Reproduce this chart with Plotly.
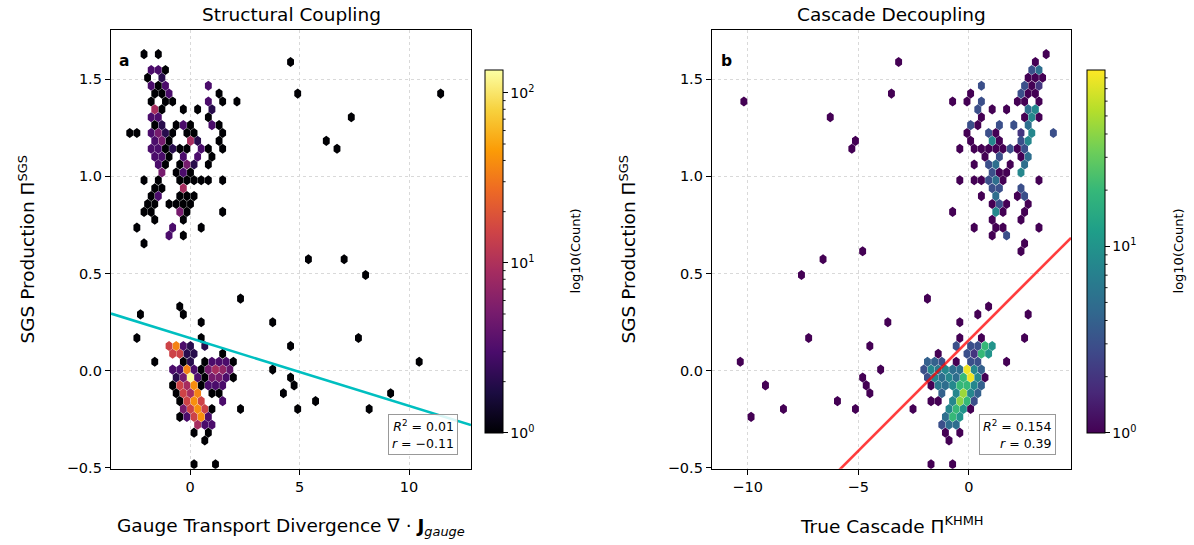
import numpy as np
import plotly.graph_objects as go
from plotly.colors import sample_colorscale

W, H = 1194, 545
Y_SPAN = 537   # vertical pixel span that the paper occupies in the photographed page

# ---------------- Panel a: hexbin of SGS production vs gauge transport divergence
# hex-grid bin (column index, row index) and count per bin
A_COL = [-14, -10, 27, -12, -10, -8, -13, -9, -12, -10, -8, 4,
         -11, -9, -7, 7, 29, 69, -12, -8, -6, 4, 8, 12,
         -11, -9, -3, 1, 5, -12, -10, 4, 44,
         -11, -9, -5, -3, -1, 5, 7,
         -18, -16, -12, -10, -8, -6, -2, 0, 8,
         -11, -9, -7, -1, 1, 7, 37,
         -12, -10, -8, -6, -4, -2, 2, 4, 8, 40,
         -11, -9, -7, -3, 1, 5,
         -10, -8, -4, -2, 0, 4,
         -9, -5, -3, -1,
         -14, -10, -4, -2, 0, 2, 4, 8,
         -11, -9, -3,
         -12, -10, -4, -2, 0,
         -13, -11, -7, -5, -3, -1,
         -14, -12, -4, -2, 8,
         -11, -3, -16, -6, 2, -7, -3, -14,
         32, 42, 48, 13, -4, -15, -3, 2, 22, -16, 2, 46,
         -7, -5, -3, -1, 3, 27,
         -6, -4, -2, 0, 8,
         -11, -3, -1, 3, 5, 7, 9, 11, 63,
         -6, -4, -2, 0, 2, 4, 6, 8, 10, 22,
         -5, -3, -1, 1, 3, 5, 7, 9, 11, 27,
         -6, -4, -2, 0, 2, 4, 6, 8, 28,
         -5, -3, -1, 1, 5, 7, 25, 55,
         -4, -2, 0, 2, 8, 34,
         -3, -1, 1, 3, 5, 13, 29, 49,
         -4, -2, 0, 2, 4,
         1, 3, 5, 0, 4, 3, 0, 6]
A_ROW = [52, 52, 51, 50, 50, 50, 49, 49, 48, 48, 48, 48,
         47, 47, 47, 47, 47, 47, 46, 46, 46, 46, 46, 46,
         45, 45, 45, 45, 45, 44, 44, 44, 44,
         43, 43, 43, 43, 43, 43, 43,
         42, 42, 42, 42, 42, 42, 42, 42, 42,
         41, 41, 41, 41, 41, 41, 41,
         40, 40, 40, 40, 40, 40, 40, 40, 40, 40,
         39, 39, 39, 39, 39, 39,
         38, 38, 38, 38, 38, 38,
         37, 37, 37, 37,
         36, 36, 36, 36, 36, 36, 36, 36,
         35, 35, 35,
         34, 34, 34, 34, 34,
         33, 33, 33, 33, 33, 33,
         32, 32, 32, 32, 32,
         31, 31, 30, 30, 30, 29, 29, 28,
         26, 26, 24, 21, 20, 19, 19, 18, 18, 16, 16, 16,
         15, 15, 15, 15, 15, 15,
         14, 14, 14, 14, 14,
         13, 13, 13, 13, 13, 13, 13, 13, 13,
         12, 12, 12, 12, 12, 12, 12, 12, 12, 12,
         11, 11, 11, 11, 11, 11, 11, 11, 11, 11,
         10, 10, 10, 10, 10, 10, 10, 10, 10,
         9, 9, 9, 9, 9, 9, 9, 9,
         8, 8, 8, 8, 8, 8,
         7, 7, 7, 7, 7, 7, 7, 7,
         6, 6, 6, 6, 6,
         5, 5, 5, 4, 4, 3, 0, 0]
A_COUNT = [1, 1, 1, 3, 3, 1, 1, 2, 3, 1, 3, 3,
           1, 1, 3, 1, 1, 1, 1, 1, 1, 3, 1, 1,
           9, 1, 1, 1, 2, 3, 3, 1, 1,
           1, 2, 1, 3, 1, 3, 1,
           1, 1, 3, 5, 2, 1, 1, 1, 1,
           3, 5, 1, 9, 2, 1, 1,
           3, 3, 1, 2, 1, 1, 3, 1, 1, 1,
           3, 3, 1, 3, 3, 1,
           3, 1, 1, 5, 2, 1,
           5, 1, 3, 1,
           1, 1, 1, 1, 1, 1, 1, 1,
           1, 1, 9,
           1, 3, 1, 1, 1,
           1, 1, 1, 1, 1, 1,
           1, 1, 5, 1, 1,
           1, 1, 1, 3, 1, 3, 1, 1,
           1, 1, 1, 1, 1, 1, 1, 1, 1, 1, 1, 1,
           15, 35, 3, 2, 2, 1,
           15, 15, 2, 2, 1,
           1, 1, 2, 1, 3, 3, 3, 1, 1,
           3, 3, 35, 3, 1, 5, 9, 7, 4, 1,
           2, 5, 130, 3, 1, 5, 5, 3, 1, 1,
           1, 15, 9, 40, 1, 3, 3, 3, 1,
           1, 15, 9, 35, 1, 1, 1, 1,
           1, 15, 40, 15, 3, 1,
           5, 15, 40, 15, 1, 1, 1, 1,
           1, 3, 15, 40, 3,
           9, 3, 3, 1, 1, 1, 1, 1]

# ---------------- Panel b: hexbin of SGS production vs true cascade
B_COL = [20, 17, -21, 16, 18, 15, 17, 19, 2, 14, 16, 18,
         -1, 13, 15, 17, -23,
         -64, -6, -2, 2, 12, 14, 18,
         1, 5, 9, 15, 17,
         -40, 2, 14, 16, 18,
         -1, 1, 7, 11, 15,
         -2, 4, 6, 13, 16, 22,
         -33, -1, 5, 7, 13, 15,
         -34, -4, 0, 2, 4, 6, 8, 10, 12, 14,
         3, 7, 13, 15,
         0, 4, 6, 10, 14,
         5, 7, 9, 13,
         -4, 0, 2, 4, 6, 8, 18,
         5, 7, 13,
         2, 6, 12, 14,
         5, 7, 9, 15,
         -6, 6, 8, 14,
         5, 13, 0, 6, 8, 18, 5, 9, 14, -31, 13,
         -42, -48, -13, 4, 1, 15, -24, -4, -46, -4, 2, 14,
         -29, -65, 9, -26, -31, -30, -58, -29, -38, -17, -33, -53, -62, -12, -6,
         -5, -1, 1, 3, 5,
         -10, -2, 0, 2, 4,
         -13, -11, -9, -5, -1, 1,
         -14, -12, -10, -8, -6, -4, -2, 0, 2,
         -13, -11, -9, -7, -5, -3, -1, 1, 3,
         -12, -10, -8, -6, -4, -2, 0, 2,
         -9, -5, -3, -1, 1,
         -12, -10, -6, -4, -2, 0,
         -7, -5, -3, -1,
         -8, -6, -4,
         -9, -7, -5,
         -8, -4, -7]
B_ROW = [52, 51, 51, 50, 50, 49, 49, 49, 48, 48, 48, 48,
         47, 47, 47, 47, 47,
         46, 46, 46, 46, 46, 46, 46,
         45, 45, 45, 45, 45,
         44, 44, 44, 44, 44,
         43, 43, 43, 43, 43,
         42, 42, 42, 42, 42, 42,
         41, 41, 41, 41, 41, 41,
         40, 40, 40, 40, 40, 40, 40, 40, 40, 40,
         39, 39, 39, 39,
         38, 38, 38, 38, 38,
         37, 37, 37, 37,
         36, 36, 36, 36, 36, 36, 36,
         35, 35, 35,
         34, 34, 34, 34,
         33, 33, 33, 33,
         32, 32, 32, 32,
         31, 31, 30, 30, 30, 30, 29, 29, 28, 27, 27,
         26, 24, 21, 20, 19, 19, 18, 18, 16, 16, 16, 16,
         15, 13, 13, 12, 11, 10, 10, 9, 8, 7, 7, 7, 6, 0, 0,
         15, 15, 15, 15, 15,
         14, 14, 14, 14, 14,
         13, 13, 13, 13, 13, 13,
         12, 12, 12, 12, 12, 12, 12, 12, 12,
         11, 11, 11, 11, 11, 11, 11, 11, 11,
         10, 10, 10, 10, 10, 10, 10, 10,
         9, 9, 9, 9, 9,
         8, 8, 8, 8, 8, 8,
         7, 7, 7, 7,
         6, 6, 6,
         5, 5, 5,
         4, 4, 3]
B_COUNT = [1, 1, 1, 3, 5, 1, 1, 1, 3, 3, 1, 2,
           1, 3, 1, 1, 1,
           1, 1, 1, 3, 1, 1, 1,
           3, 1, 1, 5, 8,
           1, 1, 1, 8, 1,
           3, 1, 3, 3, 5,
           1, 3, 1, 2, 8, 3,
           1, 1, 8, 1, 3, 8,
           1, 1, 1, 1, 1, 1, 1, 3, 1, 3,
           1, 3, 1, 5,
           1, 3, 5, 1, 5,
           3, 1, 1, 8,
           1, 1, 1, 3, 5, 1, 1,
           3, 3, 3,
           1, 5, 1, 3,
           1, 3, 1, 1,
           1, 8, 1, 1,
           1, 1, 1, 1, 1, 1, 1, 3, 1, 1, 1,
           1, 1, 1, 1, 1, 1, 1, 1, 1, 1, 1, 1,
           1, 1, 1, 1, 1, 1, 1, 1, 1, 1, 1, 1, 1, 1, 1,
           3, 3, 3, 20, 10,
           1, 3, 2, 20, 10,
           4, 4, 3, 1, 3, 3,
           3, 8, 6, 8, 5, 5, 80, 8, 4,
           3, 8, 5, 8, 5, 20, 80, 8, 1,
           1, 6, 5, 8, 20, 20, 8, 4,
           4, 8, 45, 8, 4,
           1, 1, 8, 40, 20, 3,
           8, 20, 10, 1,
           5, 20, 10,
           3, 5, 5,
           1, 1, 1]

# hex grid definition (bin centres): x = X0 + col*HX, y = Y0 + row*HY
A_X0, A_HX = 0.183, 0.1632
B_X0, B_HX = 0.244, 0.1627
Y0, HY = -0.481, 0.04057

A_VMAX, B_VMAX = 136.0, 88.0

# regression fits (intercept, slope)
A_FIT = (0.168, -0.0349)
B_FIT = (0.157, 0.114)
A_STATS = ("0.01", "\u22120.11")
B_STATS = ("0.154", "0.39")

A_XRANGE = [-3.61, 12.83]
B_XRANGE = [-11.61, 4.62]
YRANGE = [-0.505, 1.7526]

INFERNO = ['#000004', '#1b0c41', '#4a0c6b', '#781c6d', '#a52c60',
           '#cf4446', '#ed6925', '#fb9b06', '#f7d13d', '#fcffa4']
VIRIDIS = ['#440154', '#482878', '#3e4989', '#31688e', '#26828e',
           '#1f9e89', '#35b779', '#6ece58', '#b5de2b', '#fde725']
INFERNO_CS = [[i / 9, c] for i, c in enumerate(INFERNO)]
VIRIDIS_CS = [[i / 9, c] for i, c in enumerate(VIRIDIS)]

FONT = "DejaVu Sans"

# colorbar geometry (pixels)
CB_TOP, CB_BOT, CB_W = 70, 432, 18
CB_A_LEFT, CB_B_LEFT = 485, 1087


def hex_traces(cols, rows, counts, x0, hx, cscale, vmax, xa, ya):
    xs = [x0 + k * hx for k in cols]
    ys = [Y0 + r * HY for r in rows]
    hw = 0.96 * hx
    tip = 0.64 * HY
    groups = {}
    for x, y, n in zip(xs, ys, counts):
        groups.setdefault(n, []).append((x, y))
    traces = []
    for n in sorted(groups):
        frac = min(1.0, np.log10(n) / np.log10(vmax))
        color = sample_colorscale(cscale, [frac])[0]
        px, py = [], []
        for (x, y) in groups[n]:
            px += [x + hw, x + hw, x, x - hw, x - hw, x, x + hw, None]
            py += [y - tip / 2, y + tip / 2, y + tip, y + tip / 2, y - tip / 2, y - tip, y - tip / 2, None]
        traces.append(go.Scatter(x=px, y=py, mode='lines', fill='toself',
                                 fillcolor=color, line=dict(width=0, color=color),
                                 xaxis=xa, yaxis=ya, hoverinfo='skip', showlegend=False))
    return traces, xs, ys


fig = go.Figure()

ta, axs, ays = hex_traces(A_COL, A_ROW, A_COUNT, A_X0, A_HX, INFERNO_CS, A_VMAX, 'x', 'y')
tb, bxs, bys = hex_traces(B_COL, B_ROW, B_COUNT, B_X0, B_HX, VIRIDIS_CS, B_VMAX, 'x2', 'y2')
for t in ta + tb:
    fig.add_trace(t)

# invisible traces to carry the colorbars
fig.add_trace(go.Scatter(x=[axs[0]], y=[ays[0]], mode='markers', xaxis='x', yaxis='y',
                         marker=dict(color=[0], coloraxis='coloraxis', opacity=0, size=1),
                         hoverinfo='skip', showlegend=False))
fig.add_trace(go.Scatter(x=[bxs[0]], y=[bys[0]], mode='markers', xaxis='x2', yaxis='y2',
                         marker=dict(color=[0], coloraxis='coloraxis2', opacity=0, size=1),
                         hoverinfo='skip', showlegend=False))

# regression lines
fig.add_trace(go.Scatter(x=A_XRANGE, y=[A_FIT[0] + A_FIT[1] * v for v in A_XRANGE],
                         mode='lines', line=dict(color='#00bfc0', width=2.6),
                         xaxis='x', yaxis='y', hoverinfo='skip', showlegend=False))
fig.add_trace(go.Scatter(x=B_XRANGE, y=[B_FIT[0] + B_FIT[1] * v for v in B_XRANGE],
                         mode='lines', line=dict(color='rgba(255,0,0,0.76)', width=2.6),
                         xaxis='x2', yaxis='y2', hoverinfo='skip', showlegend=False))


def px_x(p):
    return p / W


def px_y(p):
    return 1 - p / Y_SPAN


def cbar(x_left):
    return dict(thickness=CB_W, thicknessmode='pixels',
                len=(CB_BOT - CB_TOP) / Y_SPAN, lenmode='fraction',
                x=px_x(x_left), xanchor='left', xpad=0, y=px_y((CB_TOP + CB_BOT) / 2),
                yanchor='middle', ypad=0,
                outlinewidth=1, outlinecolor='black', ticks='outside', ticklen=4.5,
                tickwidth=1, tickcolor='black', tickvals=[0, 1, 2],
                ticktext=["10<sup>0</sup>", "10<sup>1</sup>", "10<sup>2</sup>"],
                tickfont=dict(family=FONT, size=14, color='black'))


def minor_ticks(x_left, vmax):
    shapes = []
    top = np.log10(vmax)
    for d in range(0, 3):
        for m in range(2, 10):
            v = d + np.log10(m)
            if v > top:
                continue
            py = CB_BOT - v / top * (CB_BOT - CB_TOP)
            x0 = x_left + CB_W
            shapes.append(dict(type='line', xref='paper', yref='paper',
                               x0=px_x(x0), x1=px_x(x0 + 2.6), y0=px_y(py), y1=px_y(py),
                               line=dict(color='black', width=0.9)))
    return shapes


axis_common = dict(showline=True, linecolor='black', linewidth=1.3, mirror=True,
                   ticks='outside', ticklen=5, tickwidth=1.2, tickcolor='black',
                   showgrid=True, gridcolor='#d9d9d9', gridwidth=0.8, griddash='dot',
                   zeroline=False, tickfont=dict(family=FONT, size=14.5, color='black'))

ytv = [-0.5, 0.0, 0.5, 1.0, 1.5]
ytt = ["\u22120.5", "0.0", "0.5", "1.0", "1.5"]

fig.update_layout(
    width=W, height=H, autosize=False, margin=dict(l=0, r=0, t=0, b=0),
    paper_bgcolor='white', plot_bgcolor='white',
    font=dict(family=FONT, color='black'),
    xaxis=dict(domain=[px_x(111), px_x(471)], range=A_XRANGE, anchor='y',
               tickvals=[0, 5, 10], ticktext=["0", "5", "10"], **axis_common),
    yaxis=dict(domain=[px_y(468), px_y(30)], range=YRANGE, anchor='x',
               tickvals=ytv, ticktext=ytt, **axis_common),
    xaxis2=dict(domain=[px_x(712), px_x(1071)], range=B_XRANGE, anchor='y2',
                tickvals=[-10, -5, 0], ticktext=["\u221210", "\u22125", "0"], **axis_common),
    yaxis2=dict(domain=[px_y(468), px_y(30)], range=YRANGE, anchor='x2',
                tickvals=ytv, ticktext=ytt, **axis_common),
    coloraxis=dict(colorscale=INFERNO_CS, cmin=0, cmax=np.log10(A_VMAX), colorbar=cbar(CB_A_LEFT)),
    coloraxis2=dict(colorscale=VIRIDIS_CS, cmin=0, cmax=np.log10(B_VMAX), colorbar=cbar(CB_B_LEFT)),
    shapes=minor_ticks(CB_A_LEFT, A_VMAX) + minor_ticks(CB_B_LEFT, B_VMAX),
)

ann = []
big = dict(family=FONT, size=18.5, color='black')
ann.append(dict(text="Structural Coupling", x=px_x(291), y=px_y(14), font=big))
ann.append(dict(text="Cascade Decoupling", x=px_x(891.5), y=px_y(14), font=big))
ann.append(dict(text="SGS Production \u03a0<sup>SGS</sup>", x=px_x(27), y=px_y(249),
                textangle=-90, font=big))
ann.append(dict(text="SGS Production \u03a0<sup>SGS</sup>", x=px_x(628), y=px_y(249),
                textangle=-90, font=big))
ann.append(dict(text="Gauge Transport Divergence \u2207 \u00b7 <b>J</b><sub><i>gauge</i></sub>",
                x=px_x(291), y=px_y(526), font=big))
ann.append(dict(text="True Cascade \u03a0<sup>KHMH</sup>", x=px_x(891.5), y=px_y(524), font=big))
ann.append(dict(text="log10(Count)", x=px_x(575), y=px_y(251), textangle=-90,
                font=dict(family=FONT, size=13, color='black')))
ann.append(dict(text="log10(Count)", x=px_x(1178), y=px_y(251), textangle=-90,
                font=dict(family=FONT, size=13, color='black')))
ann.append(dict(text="<b>a</b>", x=px_x(124), y=px_y(61), font=dict(family=FONT, size=15.5, color='black')))
ann.append(dict(text="<b>b</b>", x=px_x(726), y=px_y(61), font=dict(family=FONT, size=15.5, color='black')))
for a in ann:
    a.update(xref='paper', yref='paper', showarrow=False, xanchor='center', yanchor='middle')

stat_font = dict(family=FONT, size=12.5, color='black')
for stats, xr in ((A_STATS, 458), (B_STATS, 1056)):
    ann.append(dict(text="<i>R</i><sup>2</sup> = %s<br><i>r</i> = %s" % stats,
                    x=px_x(xr), y=px_y(454), xref='paper', yref='paper', showarrow=False,
                    xanchor='right', yanchor='bottom', align='right', font=stat_font,
                    bgcolor='rgba(255,255,255,0.85)', bordercolor='#999999', borderwidth=1,
                    borderpad=3))
fig.update_layout(annotations=ann)

fig.write_html("out.html",
               config={'displayModeBar': False, 'responsive': False},
               post_script="document.body.style.margin='0';document.body.style.overflow='hidden';")
